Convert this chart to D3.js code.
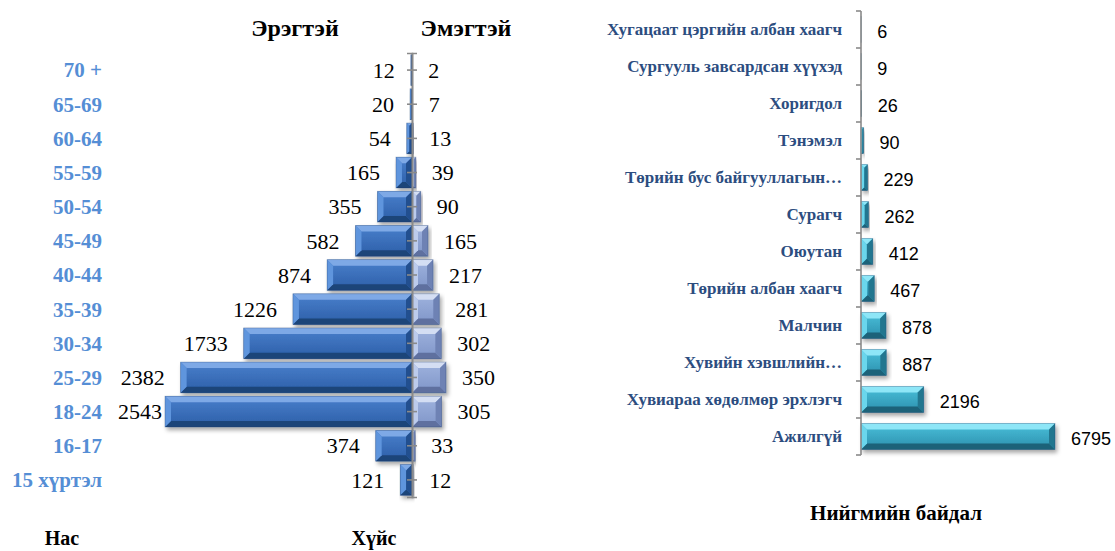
<!DOCTYPE html>
<html>
<head>
<meta charset="utf-8">
<script src="https://cdn.jsdelivr.net/npm/d3@7/dist/d3.min.js"></script>
<style>
	body { margin: 0; background: #fff; }
	svg { display: block; }
	.serif { font-family: "Liberation Serif", "Times New Roman", serif; }
	.sans { font-family: "Liberation Sans", Arial, sans-serif; }
</style>
</head>
<body>
<div id="chart"></div>
<script>

// Age pyramid data
var ageGroups = ["70 +", "65-69", "60-64", "55-59", "50-54", "45-49", "40-44",
	"35-39", "30-34", "25-29", "18-24", "16-17", "15 хүртэл"];
var maleValues = [12, 20, 54, 165, 355, 582, 874, 1226, 1733, 2382, 2543, 374, 121];
var femaleValues = [2, 7, 13, 39, 90, 165, 217, 281, 302, 350, 305, 33, 12];

// Social status data
var statusLabels = ["Хугацаат цэргийн албан хаагч", "Сургууль завсардсан хүүхэд", "Хоригдол",
	"Тэнэмэл", "Төрийн бус байгууллагын…", "Сурагч", "Оюутан", "Төрийн албан хаагч",
	"Малчин", "Хувийн хэвшлийн…", "Хувиараа хөдөлмөр эрхлэгч", "Ажилгүй"];
var statusValues = [6, 9, 26, 90, 229, 262, 412, 467, 878, 887, 2196, 6795];

var width = 1115,
	height = 551;

var svg = d3.select("#chart").append("svg")
	.attr("width", width)
	.attr("height", height);

svg.append("rect").attr("width", width).attr("height", height).attr("fill", "#fff");

var defs = svg.append("defs");

// drop shadow under bars
var shadow = defs.append("filter").attr("id", "shadow")
	.attr("x", "-10%").attr("y", "-20%").attr("width", "130%").attr("height", "160%");
shadow.append("feDropShadow")
	.attr("dx", 2).attr("dy", 3).attr("stdDeviation", 2)
	.attr("flood-color", "#000").attr("flood-opacity", 0.35);

// vertical gradients for bar faces
function makeGradient(id, top, bottom) {
	var g = defs.append("linearGradient").attr("id", id)
		.attr("x1", 0).attr("y1", 0).attr("x2", 0).attr("y2", 1);
	g.append("stop").attr("offset", "0%").attr("stop-color", top);
	g.append("stop").attr("offset", "100%").attr("stop-color", bottom);
}
makeGradient("maleFace", "#4a80cc", "#2c5ea8");
makeGradient("femaleFace", "#9fb3de", "#7f95c8");
makeGradient("statusFace", "#4bc0da", "#2b8fad");

// bar drawn with an Excel-like bevel: four edges + a face
var palettes = {
	male: { face: "url(#maleFace)", top: "#7ea9e6", left: "#5f95dd", right: "#24508f", bottom: "#1d4479" },
	female: { face: "url(#femaleFace)", top: "#d4def3", left: "#bccbec", right: "#6e82b4", bottom: "#5e709f" },
	status: { face: "url(#statusFace)", top: "#8ee6f7", left: "#6bd6ec", right: "#23768f", bottom: "#1c6279" }
};

function bevelBar(parent, x, y, w, h, pal) {
	var g = parent.append("g").attr("filter", "url(#shadow)");
	var b = Math.max(0, Math.min(6, w / 2, h / 2));
	g.append("rect").attr("x", x).attr("y", y).attr("width", w).attr("height", h).attr("fill", pal.face);
	var pts = function (arr) { return arr.map(function (p) { return p.join(","); }).join(" "); };
	g.append("polygon").attr("fill", pal.top)
		.attr("points", pts([[x, y], [x + w, y], [x + w - b, y + b], [x + b, y + b]]));
	g.append("polygon").attr("fill", pal.bottom)
		.attr("points", pts([[x, y + h], [x + w, y + h], [x + w - b, y + h - b], [x + b, y + h - b]]));
	g.append("polygon").attr("fill", pal.left)
		.attr("points", pts([[x, y], [x + b, y + b], [x + b, y + h - b], [x, y + h]]));
	g.append("polygon").attr("fill", pal.right)
		.attr("points", pts([[x + w, y], [x + w - b, y + b], [x + w - b, y + h - b], [x + w, y + h]]));
	g.append("rect").attr("x", x).attr("y", y).attr("width", w).attr("height", h)
		.attr("fill", "none").attr("stroke", "#1e3a66").attr("stroke-opacity", 0.35).attr("stroke-width", 0.8);
}

/*
 * Left chart - age / sex pyramid
 */
var axisX = 412;

var yAge = d3.scaleBand()
	.domain(ageGroups)
	.range([53, 497])
	.paddingInner(0.1)
	.paddingOuter(0.05);

var xMale = d3.scaleLinear().domain([0, 2543]).range([axisX, 165]);
var xFemale = d3.scaleLinear().domain([0, 2543]).range([axisX, 659]);

var pyramid = svg.append("g");

ageGroups.forEach(function (a, i) {
	var y = yAge(a), h = yAge.bandwidth();
	bevelBar(pyramid, xMale(maleValues[i]), y, axisX - xMale(maleValues[i]), h, palettes.male);
	bevelBar(pyramid, axisX, y, xFemale(femaleValues[i]) - axisX, h, palettes.female);
});

// value labels
pyramid.selectAll(".male-label")
	.data(maleValues)
	.enter().append("text")
	.attr("class", "male-label serif")
	.attr("text-anchor", "end")
	.attr("x", function (d) { return Math.max(xMale(d) - 16, 162); })
	.attr("y", function (d, i) { return yAge(ageGroups[i]) + yAge.bandwidth() / 2; })
	.attr("dy", "0.35em")
	.attr("font-size", 22)
	.attr("fill", "#000")
	.text(function (d) { return d; });

pyramid.selectAll(".female-label")
	.data(femaleValues)
	.enter().append("text")
	.attr("class", "female-label serif")
	.attr("x", function (d) { return xFemale(d) + 16; })
	.attr("y", function (d, i) { return yAge(ageGroups[i]) + yAge.bandwidth() / 2; })
	.attr("dy", "0.35em")
	.attr("font-size", 22)
	.attr("fill", "#000")
	.text(function (d) { return d; });

// central axis with crossing ticks
var axisL = pyramid.append("g").attr("transform", "translate(" + axisX + ",0)")
	.call(d3.axisLeft(yAge).tickSize(5).tickSizeOuter(5).tickFormat(""));
var axisR = pyramid.append("g").attr("transform", "translate(" + axisX + ",0)")
	.call(d3.axisRight(yAge).tickSize(5).tickSizeOuter(5).tickFormat(""));
[axisL, axisR].forEach(function (ax) {
	ax.selectAll("path, line").attr("stroke", "#8a8a8a").attr("stroke-width", 1.6);
});

// age category labels
pyramid.selectAll(".age-label")
	.data(ageGroups)
	.enter().append("text")
	.attr("class", "age-label serif")
	.attr("text-anchor", "end")
	.attr("x", 102)
	.attr("y", function (d) { return yAge(d) + yAge.bandwidth() / 2; })
	.attr("dy", "0.35em")
	.attr("font-size", 21)
	.attr("font-weight", "bold")
	.attr("fill", "#558ed5")
	.text(function (d) { return d; });

// headers and axis titles
pyramid.append("text").attr("class", "serif")
	.attr("x", 295).attr("y", 36).attr("text-anchor", "middle")
	.attr("font-size", 24).attr("font-weight", "bold").text("Эрэгтэй");
pyramid.append("text").attr("class", "serif")
	.attr("x", 466).attr("y", 36).attr("text-anchor", "middle")
	.attr("font-size", 24).attr("font-weight", "bold").text("Эмэгтэй");
pyramid.append("text").attr("class", "serif")
	.attr("x", 62).attr("y", 545).attr("text-anchor", "middle")
	.attr("font-size", 20).attr("font-weight", "bold").text("Нас");
pyramid.append("text").attr("class", "serif")
	.attr("x", 374).attr("y", 545).attr("text-anchor", "middle")
	.attr("font-size", 20).attr("font-weight", "bold").text("Хүйс");

/*
 * Right chart - social status
 */
var statusX = 861;

var yStatus = d3.scaleBand()
	.domain(statusLabels)
	.range([11, 455])
	.paddingInner(0.3)
	.paddingOuter(0.15);

var xStatus = d3.scaleLinear().domain([0, 6795]).range([statusX, 1055]);

var statusChart = svg.append("g");

statusLabels.forEach(function (s, i) {
	bevelBar(statusChart, statusX, yStatus(s), xStatus(statusValues[i]) - statusX, yStatus.bandwidth(), palettes.status);
});

statusChart.selectAll(".status-value")
	.data(statusValues)
	.enter().append("text")
	.attr("class", "status-value sans")
	.attr("x", function (d) { return xStatus(d) + 16; })
	.attr("y", function (d, i) { return yStatus(statusLabels[i]) + yStatus.bandwidth() / 2 + 2; })
	.attr("dy", "0.35em")
	.attr("font-size", 18)
	.attr("fill", "#000")
	.text(function (d) { return d; });

statusChart.selectAll(".status-label")
	.data(statusLabels)
	.enter().append("text")
	.attr("class", "status-label serif")
	.attr("text-anchor", "end")
	.attr("x", 842)
	.attr("y", function (d) { return yStatus(d) + yStatus.bandwidth() / 2; })
	.attr("dy", "0.35em")
	.attr("font-size", 17)
	.attr("font-weight", "bold")
	.attr("fill", "#2c4d7f")
	.text(function (d) { return d; });

// axis line with ticks at category boundaries
var step = yStatus.step();
var bounds = d3.range(statusLabels.length + 1).map(function (i) {
	return yStatus.range()[0] + i * step;
});
statusChart.append("line")
	.attr("x1", statusX).attr("x2", statusX)
	.attr("y1", bounds[0]).attr("y2", bounds[bounds.length - 1])
	.attr("stroke", "#8a8a8a").attr("stroke-width", 1.6);
statusChart.selectAll(".status-tick")
	.data(bounds)
	.enter().append("line")
	.attr("class", "status-tick")
	.attr("x1", statusX - 5).attr("x2", statusX)
	.attr("y1", function (d) { return d; }).attr("y2", function (d) { return d; })
	.attr("stroke", "#8a8a8a").attr("stroke-width", 1.6);

statusChart.append("text").attr("class", "serif")
	.attr("x", 896).attr("y", 520).attr("text-anchor", "middle")
	.attr("font-size", 21).attr("font-weight", "bold").text("Нийгмийн байдал");

</script>
</body>
</html>
